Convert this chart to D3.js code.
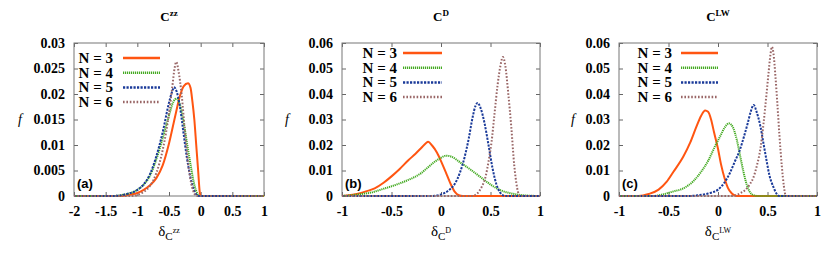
<!DOCTYPE html>
<html>
<head>
<meta charset="utf-8">
<script src="https://cdn.jsdelivr.net/npm/d3@7"></script>
<style>
  body { margin: 0; background: #fff; }
  svg { display: block; }
  .tick text { font-family: "Liberation Serif", "Times New Roman", serif; font-weight: bold; font-size: 14px; fill: #000; }
</style>
</head>
<body>
<div id="chart"></div>
<script>
// series labels
var seriesNames = ["N = 3", "N = 4", "N = 5", "N = 6"];

// panel (a) C^zz : [delta, f]
var zz3 = [[-2,0],[-1.3,0],[-1.1,0.0003],[-1.0,0.0006],[-0.9,0.0012],[-0.8,0.0021],[-0.7,0.0035],[-0.6,0.006],[-0.5,0.0103],[-0.4,0.0158],[-0.33,0.0195],[-0.27,0.0215],[-0.2,0.0221],[-0.16,0.0212],[-0.13,0.0185],[-0.1,0.015],[-0.07,0.01],[-0.04,0.005],[-0.015,0.0008],[0,0],[1,0]];
var zz4 = [[-2,0],[-1.4,0],[-1.2,0.0003],[-1.0,0.0012],[-0.9,0.0022],[-0.8,0.004],[-0.7,0.0072],[-0.6,0.0113],[-0.5,0.0158],[-0.43,0.0185],[-0.38,0.0191],[-0.33,0.018],[-0.28,0.0152],[-0.22,0.0107],[-0.16,0.0062],[-0.1,0.0022],[-0.05,0.0004],[-0.025,0],[1,0]];
var zz5 = [[-2,0],[-1.4,0],[-1.2,0.0003],[-1.0,0.0012],[-0.9,0.0023],[-0.8,0.0043],[-0.7,0.0078],[-0.6,0.0125],[-0.5,0.0183],[-0.45,0.0205],[-0.42,0.0213],[-0.38,0.0205],[-0.33,0.0177],[-0.28,0.0132],[-0.22,0.0077],[-0.16,0.0036],[-0.1,0.001],[-0.05,0.0001],[-0.03,0],[1,0]];
var zz6 = [[-2,0],[-1.1,0],[-0.9,0.0008],[-0.8,0.002],[-0.7,0.0045],[-0.6,0.009],[-0.5,0.0162],[-0.45,0.0212],[-0.41,0.0252],[-0.385,0.0263],[-0.35,0.0245],[-0.3,0.0198],[-0.25,0.0128],[-0.2,0.0066],[-0.15,0.0025],[-0.1,0.0005],[-0.06,0],[1,0]];

// panel (b) C^D
var d3s = [[-1,0],[-0.95,0.0002],[-0.85,0.0008],[-0.75,0.0019],[-0.67,0.003],[-0.58,0.0052],[-0.5,0.0077],[-0.42,0.0105],[-0.33,0.014],[-0.26,0.0165],[-0.2,0.0188],[-0.15,0.0208],[-0.13,0.0213],[-0.09,0.0198],[-0.04,0.017],[0.01,0.0128],[0.06,0.0082],[0.1,0.0045],[0.14,0.0016],[0.18,0.0003],[0.22,0],[1,0]];
var d4s = [[-1,0],[-0.9,0.0003],[-0.8,0.0008],[-0.7,0.0014],[-0.6,0.0026],[-0.5,0.0038],[-0.4,0.0052],[-0.33,0.0063],[-0.2,0.009],[-0.13,0.0113],[-0.05,0.0138],[0,0.015],[0.05,0.0158],[0.1,0.0155],[0.2,0.013],[0.3,0.0103],[0.4,0.0074],[0.5,0.0045],[0.6,0.0023],[0.7,0.0011],[0.8,0.0004],[0.9,0.0001],[1,0]];
var d5s = [[-1,0],[-0.1,0],[0,0.0006],[0.08,0.0023],[0.14,0.0048],[0.19,0.009],[0.24,0.0155],[0.28,0.0225],[0.32,0.031],[0.35,0.0355],[0.37,0.0365],[0.4,0.0345],[0.44,0.0285],[0.48,0.02],[0.52,0.011],[0.56,0.0045],[0.6,0.0012],[0.64,0.0001],[0.67,0],[1,0]];
var d6s = [[-1,0],[0.31,0],[0.36,0.0008],[0.41,0.0035],[0.45,0.0075],[0.48,0.0135],[0.51,0.021],[0.54,0.032],[0.57,0.043],[0.6,0.051],[0.625,0.0545],[0.65,0.051],[0.68,0.04],[0.71,0.027],[0.74,0.012],[0.77,0.003],[0.8,0],[1,0]];

// panel (c) C^LW
var lw3 = [[-1,0],[-0.8,0],[-0.7,0.0008],[-0.6,0.0025],[-0.52,0.0055],[-0.45,0.0095],[-0.35,0.0155],[-0.28,0.021],[-0.22,0.027],[-0.17,0.0315],[-0.13,0.0335],[-0.1,0.033],[-0.07,0.03],[-0.04,0.025],[0,0.0185],[0.03,0.0125],[0.07,0.0065],[0.1,0.0032],[0.14,0.001],[0.18,0.0001],[0.2,0],[1,0]];
var lw4 = [[-1,0],[-0.65,0],[-0.55,0.0007],[-0.45,0.0018],[-0.35,0.003],[-0.25,0.0058],[-0.18,0.009],[-0.1,0.0138],[-0.03,0.0195],[0.02,0.0233],[0.07,0.027],[0.11,0.0285],[0.15,0.027],[0.19,0.022],[0.23,0.0145],[0.26,0.009],[0.29,0.0045],[0.32,0.0017],[0.36,0.0003],[0.4,0],[1,0]];
var lw5 = [[-1,0],[-0.3,0],[-0.2,0.0003],[-0.1,0.001],[0,0.0025],[0.06,0.005],[0.12,0.009],[0.17,0.0135],[0.22,0.018],[0.26,0.023],[0.3,0.0285],[0.33,0.033],[0.36,0.0357],[0.39,0.033],[0.43,0.027],[0.46,0.0205],[0.49,0.014],[0.52,0.008],[0.56,0.0035],[0.59,0.001],[0.62,0],[1,0]];
var lw6 = [[-1,0],[0.15,0],[0.22,0.001],[0.28,0.0025],[0.32,0.0045],[0.36,0.0075],[0.39,0.0115],[0.43,0.019],[0.46,0.0285],[0.49,0.04],[0.51,0.048],[0.53,0.0555],[0.545,0.0585],[0.56,0.056],[0.58,0.047],[0.6,0.036],[0.62,0.024],[0.645,0.0115],[0.665,0.004],[0.68,0.0005],[0.69,0],[1,0]];

// ticks
var zzXTicks = [-2, -1.5, -1, -0.5, 0, 0.5, 1];
var zzYTicks = [0, 0.005, 0.01, 0.015, 0.02, 0.025, 0.03];
var dXTicks = [-1, -0.5, 0, 0.5, 1];
var dYTicks = [0, 0.01, 0.02, 0.03, 0.04, 0.05, 0.06];

var colors = ["#ff5511", "#44aa22", "#1a3a99", "#996666"];
var dashes = [null, "1.2,0.8", "2.2,1.3", "1.6,1.8"];

var W = 830, H = 258;
var plotTop = 43, plotBottom = 196;

var svg = d3.select("#chart").append("svg")
    .attr("width", W)
    .attr("height", H);

var panels = [
    {left: 74, right: 264, xd: [-2, 1], yd: [0, 0.03], xt: zzXTicks, yt: zzYTicks, series: [zz3, zz4, zz5, zz6],
     sup: "zz", tag: "(a)", fx: 18, legX: 113, lineX: [123, 160], legY: 58},
    {left: 342, right: 540, xd: [-1, 1], yd: [0, 0.06], xt: dXTicks, yt: dYTicks, series: [d3s, d4s, d5s, d6s],
     sup: "D", tag: "(b)", fx: 285, legX: 397, lineX: [403, 442], legY: 53},
    {left: 619, right: 817, xd: [-1, 1], yd: [0, 0.06], xt: dXTicks, yt: dYTicks, series: [lw3, lw4, lw5, lw6],
     sup: "LW", tag: "(c)", fx: 571, legX: 672, lineX: [681, 718], legY: 53}
];

panels.forEach(function(p){
    var x = d3.scaleLinear().domain(p.xd).range([p.left, p.right]);
    var y = d3.scaleLinear().domain(p.yd).range([plotBottom, plotTop]);
    var g = svg.append("g");

    // axes, gnuplot style: inward ticks mirrored
    g.append("g").attr("transform", "translate(0," + plotBottom + ")")
        .call(d3.axisBottom(x).tickValues(p.xt).tickSizeInner(-4).tickSizeOuter(0).tickPadding(10).tickFormat(function(d){ return String(d); }));
    g.append("g").attr("transform", "translate(" + p.left + ",0)")
        .call(d3.axisLeft(y).tickValues(p.yt).tickSizeInner(-4).tickSizeOuter(0).tickPadding(9).tickFormat(function(d){ return d === 0 ? "0" : String(+d.toFixed(3)); }));
    g.append("g").attr("transform", "translate(0," + plotTop + ")")
        .call(d3.axisTop(x).tickValues(p.xt).tickSizeInner(-4).tickSizeOuter(0).tickFormat(""));
    g.append("g").attr("transform", "translate(" + p.right + ",0)")
        .call(d3.axisRight(y).tickValues(p.yt).tickSizeInner(-4).tickSizeOuter(0).tickFormat(""));
    g.selectAll(".domain").remove();
    g.selectAll(".tick line").attr("stroke", "#666");

    g.append("rect")
        .attr("x", p.left).attr("y", plotTop)
        .attr("width", p.right - p.left).attr("height", plotBottom - plotTop)
        .attr("fill", "none").attr("stroke", "#777").attr("stroke-width", 1);

    var line = d3.line()
        .x(function(d){ return x(d[0]); })
        .y(function(d){ return y(d[1]); })
        .curve(d3.curveMonotoneX);

    g.selectAll("path.curve")
        .data(p.series)
        .enter()
        .append("path")
        .attr("class", "curve")
        .attr("d", line)
        .attr("fill", "none")
        .attr("stroke", function(d, i){ return colors[i]; })
        .attr("stroke-width", 2)
        .attr("stroke-dasharray", function(d, i){ return dashes[i]; });

    // legend
    seriesNames.forEach(function(name, i){
        var ly = p.legY + i * 14.7;
        g.append("text")
            .attr("x", p.legX).attr("y", ly + 5)
            .attr("text-anchor", "end")
            .style("font-family", "'Liberation Serif', serif")
            .style("font-weight", "bold").style("font-size", "15px")
            .text(name);
        g.append("line")
            .attr("x1", p.lineX[0]).attr("x2", p.lineX[1])
            .attr("y1", ly).attr("y2", ly)
            .attr("stroke", colors[i]).attr("stroke-width", 2.5)
            .attr("stroke-dasharray", dashes[i]);
    });

    // panel tag
    g.append("text")
        .attr("x", p.left + 3).attr("y", 188)
        .style("font-family", "'Liberation Sans', Arial, sans-serif")
        .style("font-weight", "bold").style("font-size", "13px")
        .text(p.tag);

    var cx = (p.left + p.right) / 2;

    // title
    var t = g.append("text")
        .attr("x", cx).attr("y", 21)
        .attr("text-anchor", "middle")
        .style("font-family", "'Liberation Serif', serif")
        .style("font-weight", "bold");
    t.append("tspan").style("font-size", "13px").text("C");
    t.append("tspan").attr("dy", -5).style("font-size", "9px").text(p.sup);

    // y label
    g.append("text")
        .attr("x", p.fx).attr("y", 124)
        .style("font-family", "'Liberation Serif', serif")
        .style("font-style", "italic").style("font-size", "14px")
        .text("f");

    // x label
    var xl = g.append("text")
        .attr("x", cx).attr("y", 236)
        .attr("text-anchor", "middle")
        .style("font-family", "'Liberation Serif', serif");
    xl.append("tspan").style("font-size", "15px").text("δ");
    xl.append("tspan").attr("dy", 4).style("font-size", "11px").text("C");
    xl.append("tspan").attr("dy", -7).style("font-size", "8px").text(p.sup);
});
</script>
</body>
</html>
